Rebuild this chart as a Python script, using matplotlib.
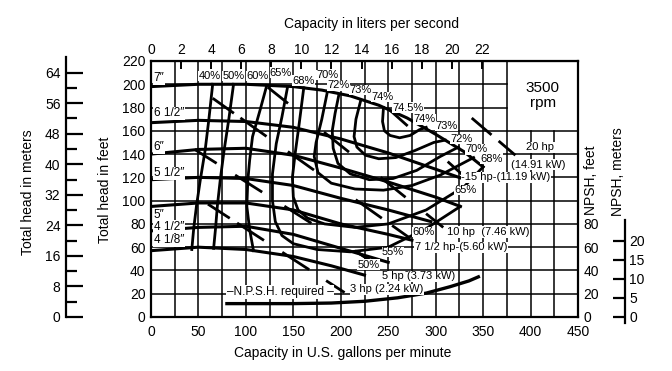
import numpy as np
import matplotlib.pyplot as plt

plt.rcParams['font.family'] = ['Liberation Sans', 'DejaVu Sans']

# impeller head curves (gpm, ft)
q_7 = [0, 50, 100, 150, 180, 210, 240, 270, 300, 330, 350]
h_7 = [198, 200, 200, 198, 195, 190, 182, 171, 157, 142, 129]
q_65 = [0, 50, 100, 150, 200, 250, 300, 335]
h_65 = [167, 169, 168, 163, 153, 141, 127, 117]
q_6 = [0, 50, 100, 150, 200, 250, 300, 326]
h_6 = [140, 144, 145, 139, 128, 116, 103, 95]
q_55 = [0, 50, 100, 150, 200, 250, 295]
h_55 = [118, 120, 119, 113, 102, 92, 82]
q_5 = [0, 50, 100, 150, 200, 250, 275]
h_5 = [95, 98, 98, 92, 80, 71, 66]
q_45 = [0, 50, 100, 150, 200, 250]
h_45 = [74, 77, 78, 71, 59, 47]
q_41 = [0, 50, 100, 150, 190, 225]
h_41 = [57, 60, 58, 52, 44, 36]
impellers = [(q_7, h_7), (q_65, h_65), (q_6, h_6), (q_55, h_55),
             (q_5, h_5), (q_45, h_45), (q_41, h_41)]
imp_labels = ['7″', '6 1/2″', '6″', '5 1/2″', '5″', '4 1/2″', '4 1/8″']

# efficiency contours
e40_q = [65, 61, 57, 52, 48, 45, 43]
e40_h = [200, 170, 143, 118, 96, 76, 58]
e50_q = [87, 82, 77, 73, 70, 68, 66]
e50_h = [200, 170, 143, 118, 96, 76, 59]
e60_q = [122, 115, 107, 104, 102, 101, 104, 108]
e60_h = [199, 178, 155, 135, 117, 95, 75, 57]
e65_q = [144, 138, 132, 128, 128, 131, 138, 150, 175, 210, 250, 290, 326]
e65_h = [198, 172, 149, 123, 100, 82, 70, 63, 58, 56, 60, 76, 95]
e68_q = [161, 156, 152, 149, 150, 155, 165, 183, 215, 250, 290, 330, 350]
e68_h = [197, 165, 141, 120, 103, 92, 85, 80, 77, 80, 92, 112, 129]
e70_q = [186, 180, 174, 172, 176, 190, 215, 245, 275, 305, 340]
e70_h = [194, 170, 150, 138, 124, 115, 110, 109, 113, 122, 137]
e72_q = [198, 194, 191, 192, 197, 210, 230, 255, 280, 305, 324]
e72_h = [191, 175, 160, 145, 132, 123, 118, 119, 126, 138, 146]
e73_q = [221, 216, 214, 217, 226, 240, 258, 278, 298, 310]
e73_h = [186, 170, 155, 146, 139, 136, 137, 143, 150, 152]
e74_q = [245, 244, 246, 252, 262, 273, 283, 290]
e74_h = [180, 168, 160, 156, 154, 156, 161, 163]
eff_curves = [(e40_q, e40_h), (e50_q, e50_h), (e60_q, e60_h), (e65_q, e65_h),
              (e68_q, e68_h), (e70_q, e70_h), (e72_q, e72_h), (e73_q, e73_h),
              (e74_q, e74_h)]

# efficiency labels along the 7" curve and at curve ends
eff_lab = ['40%', '50%', '60%', '65%', '68%', '70%', '72%', '73%', '74%',
           '74.5%', '74%', '73%', '72%', '70%', '68%', '65%', '60%', '55%', '50%']
eff_lab_q = [62, 87, 112, 137, 161, 186, 198, 221, 244, 271, 288, 311, 327, 343, 359, 331, 287, 255, 229]
eff_lab_h = [207, 207, 207, 210, 203, 208, 199, 195, 189, 180, 170, 164, 153, 144, 136, 109, 73, 56, 45]

# horsepower lines: start and end (gpm, ft)
hp_names = ['3 hp', '5 hp', '7 1/2 hp', '10 hp', '15 hp', '20 hp']
hp_q0 = [60, 46, 65, 123, 250, 338]
hp_h0 = [97, 144, 188, 197.5, 179, 171]
hp_q1 = [204, 239, 273, 308, 330, 384]
hp_h1 = [21, 44.5, 67.7, 77, 121, 139]

# NPSH required
npsh_q = [80, 150, 190, 225, 260, 290, 315, 335, 345]
npsh_h = [11.5, 11.5, 12, 13.5, 16.5, 20.5, 26, 31, 34.5]

gpm_per_ls = 15.85
ft_per_m = 3.2808

fig = plt.figure(figsize=(6.72, 3.71), dpi=100)
ax = fig.add_axes([151/672, 1 - 317/371, 427/672, 256/371])
ax.set_xlim(0, 450)
ax.set_ylim(0, 220)

# grid, left open in the rpm box
lw_grid = 1.1
for q in range(25, 450, 25):
    ax.plot([q, q], [0, 160 if q > 375 else 220], color='black', lw=lw_grid, zorder=1)
for h in range(20, 220, 20):
    ax.plot([0, 375 if h > 160 else 450], [h, h], color='black', lw=lw_grid, zorder=1)
ax.text(413, 197, '3500', ha='center', va='center', fontsize=11)
ax.text(413, 184, 'rpm', ha='center', va='center', fontsize=11)

for q, h in impellers:
    ax.plot(q, h, color='black', lw=2.2, zorder=3)
for q, h in eff_curves:
    ax.plot(q, h, color='black', lw=2.0, zorder=3)

# hp lines drawn as broken segments that hang off each impeller curve
sx, sy = 0.949, 1.163  # px per gpm, px per ft
for k in range(len(hp_names)):
    qa, ha, qb, hb = hp_q0[k], hp_h0[k], hp_q1[k], hp_h1[k]
    L = np.hypot((qb - qa) * sx, (hb - ha) * sy)
    t = np.linspace(0, 1, 600)
    ql = qa + (qb - qa) * t
    hl = ha + (hb - ha) * t
    anchors = [0.0]
    for q, h in impellers:
        ok = ql <= q[-1]
        d = hl - np.interp(ql, q, h)
        d[~ok] = np.nan
        s = np.where(np.sign(d[:-1]) * np.sign(d[1:]) < 0)[0]
        for i in s:
            if t[i] * L > 14:
                anchors.append(t[i])
    segs = []
    for a in anchors:
        segs.append((max(a - 6 / L, 0), min(a + 26 / L, 1)))
    segs.append((1 - 22 / L, 1.0))
    for a, b in segs:
        ax.plot([qa + (qb - qa) * a, qa + (qb - qa) * b],
                [ha + (hb - ha) * a, ha + (hb - ha) * b],
                color='black', lw=2.0, zorder=3, solid_capstyle='butt')

ax.plot(npsh_q, npsh_h, color='black', lw=2.4, zorder=3)

# text labels
imp_lab_h = [205, 175, 146, 123.5, 87.5, 77.4, 66]
for s, h in zip(imp_labels, imp_lab_h):
    ax.text(3, h, s, ha='left', va='center', fontsize=8.5, zorder=5,
            bbox=dict(facecolor='white', edgecolor='none', pad=0.3))
for s, q, h in zip(eff_lab, eff_lab_q, eff_lab_h):
    ax.text(q, h, s, ha='center', va='center', fontsize=8, zorder=5,
            bbox=dict(facecolor='white', edgecolor='none', pad=0.2))

wb = dict(facecolor='white', edgecolor='none', pad=0.4)
ax.text(312, 73, '10 hp  (7.46 kW)', fontsize=8, va='center', zorder=5, bbox=wb)
ax.text(278, 60, '7 1/2 hp-(5.60 kW)', fontsize=8, va='center', zorder=5, bbox=wb)
ax.text(243, 35, '5 hp ̄(3.73 kW)', fontsize=8, va='center', zorder=5, bbox=wb)
ax.text(210, 24, '3 hp (2.24 kW)', fontsize=8, va='center', zorder=5, bbox=wb)
ax.text(327, 120, '-15 hp-(11.19 kW)', fontsize=8, va='center', zorder=5, bbox=wb)
ax.text(410, 146, '20 hp', fontsize=8, ha='center', va='center', zorder=5, bbox=wb)
ax.text(408, 131, '(14.91 kW)', fontsize=8, ha='center', va='center', zorder=5, bbox=wb)
ax.text(80, 21.5, '–N.P.S.H. required –', fontsize=8.5, va='center', zorder=5, bbox=wb)

for sp in ax.spines.values():
    sp.set_linewidth(1.6)
ax.set_xticks(range(0, 451, 50))
ax.set_yticks(range(0, 221, 20))
ax.tick_params(axis='y', length=0, labelsize=10, pad=4)
ax.tick_params(axis='x', length=0, labelsize=10, pad=6)

# top axis in liters per second
top = ax.secondary_xaxis('top', functions=(lambda q: q / gpm_per_ls, lambda l: l * gpm_per_ls))
top.set_xticks(range(0, 23, 2))
top.tick_params(direction='in', length=6, width=1.4, labelsize=10, pad=3)

# right NPSH feet labels
axf = ax.twinx()
axf.set_ylim(0, 220)
axf.set_yticks(range(0, 81, 20))
axf.tick_params(length=0, labelsize=10, pad=4)
for sp in axf.spines.values():
    sp.set_visible(False)

# left meters axis
axm = ax.twinx()
axm.set_ylim(0, 220 / ft_per_m)
for sp in axm.spines.values():
    sp.set_visible(False)
axm.spines['left'].set_visible(True)
axm.spines['left'].set_position(('axes', -0.199))
axm.spines['left'].set_bounds(0, 68)
axm.spines['left'].set_linewidth(1.6)
axm.yaxis.set_ticks_position('left')
axm.set_yticks(range(0, 65, 8))
axm.set_yticks(range(4, 61, 8), minor=True)
axm.tick_params(which='major', direction='in', length=12, width=1.6, labelsize=10, pad=4)
axm.tick_params(which='minor', direction='in', length=8, width=1.6)

# right NPSH meters axis
axn = ax.twinx()
axn.set_ylim(0, 220 / ft_per_m)
for sp in axn.spines.values():
    sp.set_visible(False)
axn.spines['right'].set_visible(True)
axn.spines['right'].set_position(('axes', 1.110))
axn.spines['right'].set_bounds(-1.5, 25.5)
axn.spines['right'].set_linewidth(1.6)
axn.set_yticks(range(0, 21, 5))
axn.tick_params(direction='in', length=9, width=1.6, labelsize=10, pad=3)

fig.text(371/672, 1 - 24/371, 'Capacity in liters per second', ha='center', va='center', fontsize=10)
fig.text(343/672, 1 - 353/371, 'Capacity in U.S. gallons per minute', ha='center', va='center', fontsize=10)
fig.text(105/672, 1 - 190/371, 'Total head in feet', rotation=90, ha='center', va='center', fontsize=10)
fig.text(28/672, 1 - 192/371, 'Total head in meters', rotation=90, ha='center', va='center', fontsize=10)
fig.text(591/672, 1 - 180/371, 'NPSH, feet', rotation=90, ha='center', va='center', fontsize=10)
fig.text(618/672, 1 - 172/371, 'NPSH, meters', rotation=90, ha='center', va='center', fontsize=10)

fig.savefig('out.png', dpi=100)
